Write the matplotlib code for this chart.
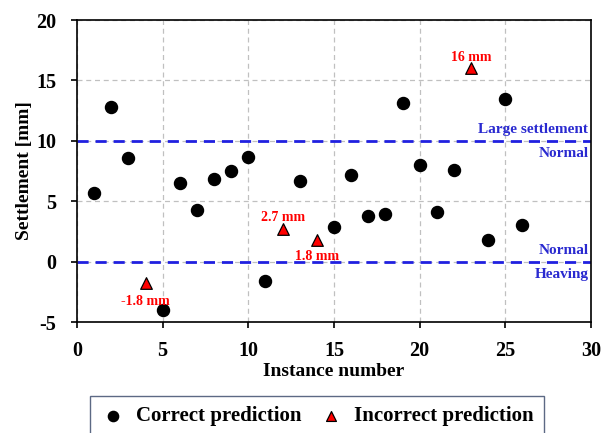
import matplotlib.pyplot as plt

plt.rcParams["font.family"] = ["Liberation Serif", "DejaVu Serif"]
plt.rcParams["font.weight"] = "bold"
plt.rcParams["axes.unicode_minus"] = False

# Correct predictions
correct_x = [1, 2, 3, 5, 6, 7, 8, 9, 10, 11, 13, 15, 16, 17, 18, 19, 20, 21, 22, 24, 25, 26]
correct_y = [5.7, 12.8, 8.6, -4.0, 6.5, 4.3, 6.8, 7.5, 8.7, -1.6, 6.7, 2.9, 7.2, 3.8, 3.9,
             13.1, 8.0, 4.1, 7.6, 1.8, 13.5, 3.0]

# Incorrect predictions
wrong_x = [4, 12, 14, 23]
wrong_y = [-1.8, 2.7, 1.8, 16]
wrong_labels = ["-1.8 mm", "2.7 mm", "1.8 mm", "16 mm"]
label_offsets = [(0, -13), (0, 8), (0, -12), (0, 8)]

thresholds = [10, 0]

fig = plt.figure(figsize=(6.13, 4.33), dpi=100)
ax = fig.add_axes([77 / 613, 1 - 322 / 433, 514 / 613, 302 / 433])

ax.grid(True, linestyle=(0, (4, 3)), color="#c0c0c0", linewidth=0.9)
ax.set_axisbelow(True)

for t in thresholds:
    ax.axhline(t, color="#2020e0", linestyle=(0, (4, 2.5)), linewidth=2, zorder=2)

ax.scatter(correct_x, correct_y, s=75, color="black", zorder=3, label="Correct prediction")
ax.scatter(wrong_x, wrong_y, s=70, marker="^", color="red", edgecolors="black",
           linewidths=0.9, zorder=3, label="Incorrect prediction")

for x, y, lab, off in zip(wrong_x, wrong_y, wrong_labels, label_offsets):
    ax.annotate(lab, (x, y), xytext=off, textcoords="offset points", ha="center",
                va="center", color="red", fontsize=10, fontweight="bold")

zone_color = "#2a2ad0"
ax.text(29.85, 10.4, "Large settlement", ha="right", va="bottom", color=zone_color, fontsize=11, fontweight="bold")
ax.text(29.85, 9.5, "Normal", ha="right", va="top", color=zone_color, fontsize=11, fontweight="bold")
ax.text(29.85, 0.4, "Normal", ha="right", va="bottom", color=zone_color, fontsize=11, fontweight="bold")
ax.text(29.85, -0.5, "Heaving", ha="right", va="top", color=zone_color, fontsize=11, fontweight="bold")

ax.set_xlim(0, 30)
ax.set_ylim(-5, 20)
ax.set_xticks(range(0, 31, 5))
ax.set_yticks(range(-5, 21, 5))
ax.tick_params(labelsize=14.5, direction="out", length=4, width=1.2)
ax.tick_params(axis="x", pad=10)
ax.tick_params(axis="y", pad=11)
ax.set_xlabel("Instance number", fontsize=14, fontweight="bold", labelpad=1)
ax.set_ylabel("Settlement [mm]", fontsize=14, fontweight="bold", labelpad=2)
for sp in ax.spines.values():
    sp.set_linewidth(1.2)

fig.legend(loc="upper center", bbox_to_anchor=(317 / 613, 1 - 396 / 433), ncol=2, fontsize=15,
           frameon=True, fancybox=False, edgecolor="#334466", handletextpad=0.5,
           handlelength=1.2, columnspacing=0.8, borderpad=0.5, markerscale=0.85,
           borderaxespad=0)

fig.savefig("out.png", dpi=100)
